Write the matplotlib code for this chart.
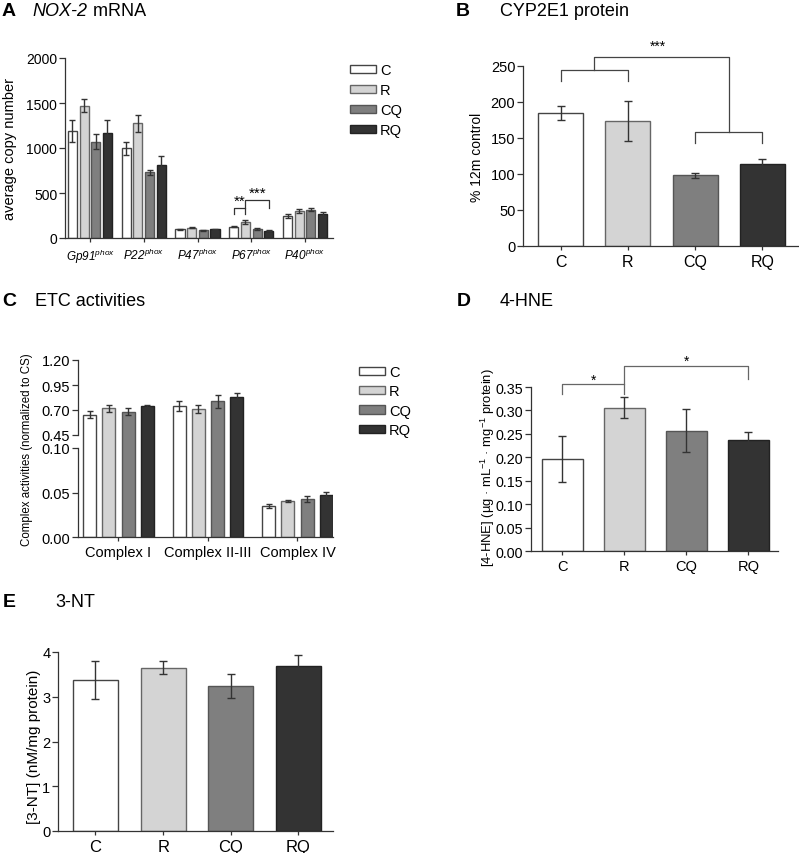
import matplotlib
matplotlib.use('Agg')
import matplotlib.pyplot as plt
import numpy as np

plt.rcParams['font.family'] = ['Liberation Sans', 'DejaVu Sans']
plt.rcParams['mathtext.fontset'] = 'custom'
plt.rcParams['mathtext.it'] = 'Liberation Sans:italic'
plt.rcParams['mathtext.rm'] = 'Liberation Sans'

W, H = 799, 854
DPI = 100

# ---------------- data ----------------
groups = ['C', 'R', 'CQ', 'RQ']
colors = ['#ffffff', '#d4d4d4', '#7f7f7f', '#333333']
edgecols = ['#444444', '#666666', '#555555', '#222222']

# Panel A: NOX-2 mRNA
genes = ['Gp91', 'P22', 'P47', 'P67', 'P40']
nox_vals = {
    'C':  [1190, 995, 95, 125, 245],
    'R':  [1470, 1275, 115, 180, 300],
    'CQ': [1070, 730, 85, 100, 315],
    'RQ': [1165, 810, 95, 80, 265],
}
nox_errs = {
    'C':  [120, 75, 8, 8, 25],
    'R':  [75, 95, 8, 25, 25],
    'CQ': [85, 25, 5, 8, 15],
    'RQ': [150, 105, 8, 5, 25],
}

# Panel B: CYP2E1 protein
cyp_vals = [185, 174, 98, 114]
cyp_errs = [10, 28, 3, 7]

# Panel C: ETC activities
complexes = ['Complex I', 'Complex II-III', 'Complex IV']
etc_vals = {
    'C':  [0.655, 0.737, 0.0348],
    'R':  [0.717, 0.710, 0.0404],
    'CQ': [0.683, 0.787, 0.0427],
    'RQ': [0.743, 0.827, 0.0472],
}
etc_errs = {
    'C':  [0.037, 0.050, 0.0020],
    'R':  [0.038, 0.040, 0.0010],
    'CQ': [0.035, 0.065, 0.0034],
    'RQ': [0.012, 0.045, 0.0034],
}

# Panel D: 4-HNE
hne_vals = [0.196, 0.306, 0.257, 0.236]
hne_errs = [0.049, 0.022, 0.045, 0.019]

# Panel E: 3-NT
nt_vals = [3.38, 3.65, 3.24, 3.69]
nt_errs = [0.42, 0.14, 0.27, 0.25]

fig = plt.figure(figsize=(W / DPI, H / DPI), dpi=DPI)
renderer = fig.canvas.get_renderer()


def add_ax(l, t, r, b):
    return fig.add_axes([l / W, 1 - b / H, (r - l) / W, (b - t) / H])


def style(ax, ysize=9.5, xsize=11):
    for s in ['top', 'right']:
        ax.spines[s].set_visible(False)
    for s in ['left', 'bottom']:
        ax.spines[s].set_color('#333333')
        ax.spines[s].set_linewidth(0.9)
    ax.tick_params(axis='both', direction='out', color='#333333', width=0.9)
    ax.tick_params(axis='y', length=4, labelsize=ysize, pad=1.5)
    ax.tick_params(axis='x', length=3, labelsize=xsize, pad=3)


ekw = dict(ecolor='#333333', elinewidth=1.0, capsize=3, capthick=1.0)


def px2fig(x, y):
    return x / W, 1 - y / H


def panel_title(letter, lx, title, tx, y, size=13, italic_prefix=None):
    fx, fy = px2fig(lx, y)
    fig.text(fx, fy, letter, fontsize=size + 1, fontweight='bold', ha='center', va='center')
    fx, fy = px2fig(tx, y)
    if italic_prefix:
        t = fig.text(fx, fy, italic_prefix, fontsize=size, fontstyle='italic', ha='left', va='center')
        bb = t.get_window_extent(renderer)
        fx = (bb.x1 + 1) / W
    fig.text(fx, fy, title, fontsize=size, ha='left', va='center')


def ylab(x, y, text, size):
    fx, fy = px2fig(x, y)
    fig.text(fx, fy, text, fontsize=size, rotation=90, ha='center', va='center')


# ---------------- Panel A ----------------
axA = add_ax(65, 59, 333, 239)
style(axA, ysize=10, xsize=8.5)
xA = np.arange(len(genes))
offA = (np.arange(4) - 1.5) * 0.217
barsA = []
for i, g in enumerate(groups):
    b = axA.bar(xA + offA[i], nox_vals[g], 0.17, yerr=nox_errs[g], color=colors[i],
                edgecolor=edgecols[i], linewidth=1.0, error_kw=dict(ekw, capsize=2.2), label=g)
    barsA.append(b)
axA.set_xlim(-0.465, 4.52)
axA.set_ylim(0, 2000)
axA.set_yticks([0, 500, 1000, 1500, 2000])
axA.set_xticks(xA)
axA.set_xticklabels([g + r'$^{\mathit{phox}}$' for g in genes], fontstyle='italic')
ylab(10, 149, 'average copy number', 10.5)
# significance on P67
p = 3
axA.plot([p + offA[0], p + offA[0], p + offA[1], p + offA[1]], [267, 330, 330, 267],
         color='#333333', lw=0.9, clip_on=False)
axA.plot([p + offA[1], p + offA[1], p + offA[3], p + offA[3]], [330, 419, 419, 333],
         color='#333333', lw=0.9, clip_on=False)
axA.text(p + (offA[0] + offA[1]) / 2, 335, '**', ha='center', va='bottom', fontsize=11)
axA.text(p + (offA[1] + offA[3]) / 2, 425, '***', ha='center', va='bottom', fontsize=11)
fig.legend(handles=barsA, labels=groups, loc='upper left',
           bbox_to_anchor=px2fig(350, 64), frameon=False, fontsize=10.5,
           handlelength=1.75, handleheight=0.5, handletextpad=0.3,
           labelspacing=0.42, borderpad=0, borderaxespad=0)
panel_title('A', 9, ' mRNA', 32, 11, italic_prefix='NOX-2')

# ---------------- Panel B ----------------
axB = add_ax(523, 67, 798, 247)
style(axB, ysize=10.5, xsize=11.5)
xB = np.arange(4)
for i in range(4):
    axB.bar(xB[i], cyp_vals[i], 0.667, yerr=cyp_errs[i], color=colors[i],
            edgecolor=edgecols[i], linewidth=1.0, error_kw=ekw)
axB.set_xlim(-0.56, 3.53)
axB.set_ylim(0, 250)
axB.set_yticks([0, 50, 100, 150, 200, 250])
axB.set_xticks(xB)
axB.set_xticklabels(groups)
bk = '#444444'
axB.plot([0, 0, 1, 1], [229, 244, 244, 229], color=bk, lw=0.9, clip_on=False)
axB.plot([2, 2, 3, 3], [143, 158, 158, 143], color=bk, lw=0.9, clip_on=False)
axB.plot([0.5, 0.5, 2.5, 2.5], [244, 262, 262, 158], color=bk, lw=0.9, clip_on=False)
axB.text(1.45, 278, '***', ha='center', va='center', fontsize=10)
ylab(477, 157, '% 12m control', 10)
panel_title('B', 463, 'CYP2E1 protein', 500, 12)

# ---------------- Panel C ----------------
xC = np.arange(len(complexes))
offC = (np.arange(4) - 1.5) * 0.2157
axCl = add_ax(78, 449, 333, 538)
axCu = add_ax(78, 361, 333, 449)
style(axCl, ysize=10.5, xsize=10.5)
style(axCu, ysize=10.5, xsize=10.5)
barsC = []
for ax in (axCl, axCu):
    for i, g in enumerate(groups):
        b = ax.bar(xC + offC[i], etc_vals[g], 0.145, yerr=etc_errs[g], color=colors[i],
                   edgecolor=edgecols[i], linewidth=1.0, error_kw=dict(ekw, capsize=2.5), label=g)
        if ax is axCl:
            barsC.append(b)
    ax.set_xlim(-0.4525, 2.397)
axCl.set_ylim(0, 0.10)
axCl.set_yticks([0.00, 0.05, 0.10])
axCl.set_yticklabels(['0.00', '0.05', '0.10'])
axCl.set_xticks(xC)
axCl.set_xticklabels(complexes)
axCu.set_ylim(0.32, 1.20)
axCu.set_yticks([0.45, 0.70, 0.95, 1.20])
axCu.set_yticklabels(['0.45', '0.70', '0.95', '1.20'])
axCu.spines['left'].set_bounds(0.45, 1.20)
axCu.spines['bottom'].set_visible(False)
axCu.set_xticks([])
axCu.patch.set_visible(False)
ylab(27, 450, 'Complex activities (normalized to CS)', 8.3)
fig.legend(handles=barsC, labels=groups, loc='upper left',
           bbox_to_anchor=px2fig(359, 366), frameon=False, fontsize=10.5,
           handlelength=1.75, handleheight=0.5, handletextpad=0.3,
           labelspacing=0.37, borderpad=0, borderaxespad=0)
panel_title('C', 9, 'ETC activities', 35, 302)

# ---------------- Panel D ----------------
axD = add_ax(531, 388, 778, 552)
style(axD, ysize=10.3, xsize=10.5)
xD = np.arange(4)
for i in range(4):
    axD.bar(xD[i], hne_vals[i], 0.66, yerr=hne_errs[i], color=colors[i],
            edgecolor=edgecols[i], linewidth=1.0, error_kw=ekw)
axD.set_xlim(-0.508, 3.476)
axD.set_ylim(0, 0.35)
axD.set_yticks(np.round(np.arange(0, 0.351, 0.05), 2))
axD.yaxis.set_major_formatter(matplotlib.ticker.FormatStrFormatter('%.2f'))
axD.set_xticks(xD)
axD.set_xticklabels(groups)
gk = '#666666'
axD.plot([0, 0, 1, 1], [0.334, 0.356, 0.356, 0.334], color=gk, lw=0.9, clip_on=False)
axD.plot([1, 1, 3, 3], [0.356, 0.394, 0.394, 0.368], color=gk, lw=0.9, clip_on=False)
axD.text(0.5, 0.365, '*', ha='center', va='center', fontsize=10)
axD.text(2.0, 0.405, '*', ha='center', va='center', fontsize=10)
ylab(488, 468, '[4-HNE] (µg · mL$^{-1}$ · mg$^{-1}$ protein)', 9.4)
panel_title('D', 464, '4-HNE', 500, 302)

# ---------------- Panel E ----------------
axE = add_ax(58, 653, 333, 832)
style(axE, ysize=10.5, xsize=12)
xE = np.arange(4)
for i in range(4):
    axE.bar(xE[i], nt_vals[i], 0.665, yerr=nt_errs[i], color=colors[i],
            edgecolor=edgecols[i], linewidth=1.0, error_kw=ekw)
axE.set_xlim(-0.554, 3.51)
axE.set_ylim(0, 4)
axE.set_yticks([0, 1, 2, 3, 4])
axE.set_xticks(xE)
axE.set_xticklabels(groups)
ylab(34, 747, '[3-NT] (nM/mg protein)', 11)
panel_title('E', 9, '3-NT', 55, 603)

fig.savefig('out.png', dpi=DPI)
